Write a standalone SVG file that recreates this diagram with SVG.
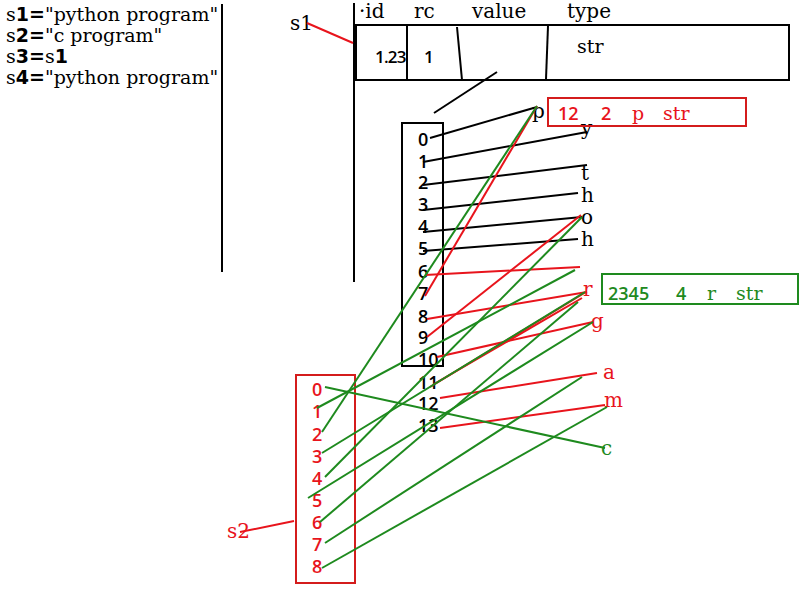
<svg xmlns="http://www.w3.org/2000/svg" width="800" height="600" viewBox="0 0 800 600">
<style>
.serif{font-family:"DejaVu Serif","Liberation Serif",serif}
.sans{font-family:"Open Sans","DejaVu Sans",sans-serif;font-weight:600}
.csans{font-family:"DejaVu Sans","Liberation Sans",sans-serif;font-weight:bold}
.code{font-size:19px;fill:#000}
.hdr{font-size:20px;fill:#000}
.num{font-size:18px;fill:#000}
.rnum{font-size:18px;fill:#e8141c}
.let{font-size:20px;fill:#000}
.rlet{font-size:20px;fill:#e8141c}
.glet{font-size:20px;fill:#1e8a1e}
.bk{stroke:#000;stroke-width:2;fill:none}
.rd{stroke:#e8141c;stroke-width:2;fill:none}
.gn{stroke:#1e8a1e;stroke-width:2;fill:none}
</style>
<rect width="800" height="600" fill="#fff"/>

<g id="code">
<text class="serif code" x="6" y="21">s<tspan class="csans">1=</tspan>"python program"</text>
<text class="serif code" x="6" y="42">s<tspan class="csans">2=</tspan>"c program"</text>
<text class="serif code" x="6" y="63">s<tspan class="csans">3=</tspan>s<tspan class="csans">1</tspan></text>
<text class="serif code" x="6" y="84">s<tspan class="csans">4=</tspan>"python program"</text>
<line class="bk" x1="222" y1="4" x2="222" y2="272"/>
<line class="bk" x1="354" y1="3" x2="354" y2="282"/>
</g>

<g id="s1-label">
<text class="serif let" x="290" y="30">s1</text>
</g>

<g id="object-table">
<text class="serif hdr" x="359" y="18">·id</text>
<text class="serif hdr" x="414" y="18">rc</text>
<text class="serif hdr" x="472" y="18">value</text>
<text class="serif hdr" x="567" y="18">type</text>
<rect class="bk" x="356" y="25" width="433" height="55"/>
<line class="bk" x1="407" y1="26" x2="407" y2="79"/>
<line class="bk" x1="457" y1="27" x2="462" y2="80"/>
<line class="bk" x1="548" y1="26" x2="546" y2="79"/>
<text class="sans" font-size="17" letter-spacing="-0.8" x="375" y="63">1.23</text>
<text class="sans" font-size="17" x="424" y="63">1</text>
<text class="serif" font-size="19" x="577" y="53">str</text>
</g>

<g id="s1-index">
<rect class="bk" x="402" y="123" width="41" height="243"/>
<text class="sans num" x="418" y="146">0</text>
<text class="sans num" x="418" y="168">1</text>
<text class="sans num" x="418" y="189">2</text>
<text class="sans num" x="418" y="211">3</text>
<text class="sans num" x="418" y="233">4</text>
<text class="sans num" x="418" y="255">5</text>
<text class="sans num" x="418" y="278">6</text>
<text class="sans num" x="418" y="300">7</text>
<text class="sans num" x="418" y="323">8</text>
<text class="sans num" x="418" y="344">9</text>
<text class="sans num" x="418" y="366">10</text>
<text class="sans num" x="418" y="389">11</text>
<text class="sans num" x="418" y="410">12</text>
<text class="sans num" x="418" y="432">13</text>
</g>

<g id="chars">
<text class="serif let" x="532" y="118">p</text>
<text class="serif let" x="581" y="135">y</text>
<text class="serif let" x="581" y="180">t</text>
<text class="serif let" x="581" y="202">h</text>
<text class="serif let" x="581" y="224">o</text>
<text class="serif let" x="581" y="246">h</text>
<text class="serif rlet" x="583" y="296">r</text>
<text class="serif rlet" x="591" y="328">g</text>
<text class="serif rlet" x="603" y="379">a</text>
<text class="serif rlet" x="604" y="407">m</text>
<text class="serif glet" x="601" y="455">c</text>
</g>

<g id="obj-p">
<rect x="548" y="98" width="198" height="28" fill="none" stroke="#d41c1c" stroke-width="2"/>
<text class="sans" font-size="18" fill="#e8141c" x="558" y="120">12</text>
<text class="sans" font-size="18" fill="#e8141c" x="601" y="120">2</text>
<text class="serif" font-size="19" fill="#e8141c" x="632" y="120">p</text>
<text class="serif" font-size="19" fill="#e8141c" x="663" y="120">str</text>
</g>

<g id="obj-r">
<rect x="602" y="274" width="196" height="30" fill="none" stroke="#1e8a1e" stroke-width="2"/>
<text class="sans" font-size="18" fill="#1e8a1e" x="608" y="300">2345</text>
<text class="sans" font-size="18" fill="#1e8a1e" x="676" y="300">4</text>
<text class="serif" font-size="19" fill="#1e8a1e" x="707" y="300">r</text>
<text class="serif" font-size="19" fill="#1e8a1e" x="736" y="300">str</text>
</g>

<g id="s2">
<text class="serif rlet" x="227" y="538">s2</text>
<rect x="296" y="375" width="59" height="208" fill="none" stroke="#d41c1c" stroke-width="2"/>
<text class="sans rnum" x="312" y="396">0</text>
<text class="sans rnum" x="312" y="418">1</text>
<text class="sans rnum" x="312" y="441">2</text>
<text class="sans rnum" x="312" y="463">3</text>
<text class="sans rnum" x="312" y="485">4</text>
<text class="sans rnum" x="312" y="507">5</text>
<text class="sans rnum" x="312" y="529">6</text>
<text class="sans rnum" x="312" y="551">7</text>
<text class="sans rnum" x="312" y="573">8</text>
</g>

<g id="connectors">
<line class="rd" x1="307" y1="23" x2="353" y2="43"/>
<line class="bk" x1="497" y1="72" x2="434" y2="113"/>
<line class="bk" x1="430" y1="138" x2="537" y2="107"/>
<line class="bk" x1="423" y1="162" x2="587" y2="132"/>
<line class="bk" x1="423" y1="185" x2="587" y2="165"/>
<line class="bk" x1="423" y1="210" x2="578" y2="193"/>
<line class="bk" x1="423" y1="232" x2="582" y2="217"/>
<line class="bk" x1="423" y1="251" x2="578" y2="239"/>
<line class="rd" x1="425" y1="275" x2="580" y2="267"/>
<line class="rd" x1="425" y1="296" x2="537" y2="106"/>
<line class="rd" x1="427" y1="319" x2="587" y2="292"/>
<line class="rd" x1="427" y1="337" x2="581" y2="215"/>
<line class="rd" x1="437" y1="357" x2="593" y2="322"/>
<line class="rd" x1="430" y1="387" x2="586" y2="292"/>
<line class="rd" x1="434" y1="384" x2="582" y2="298"/>
<line class="rd" x1="440" y1="398" x2="597" y2="373"/>
<line class="rd" x1="440" y1="428" x2="605" y2="405"/>
<line class="gn" x1="325" y1="387" x2="605" y2="448"/>
<line class="gn" x1="317" y1="408" x2="575" y2="270"/>
<line class="gn" x1="322" y1="432" x2="537" y2="106"/>
<line class="gn" x1="322" y1="453" x2="585" y2="292"/>
<line class="gn" x1="325" y1="477" x2="582" y2="217"/>
<line class="gn" x1="308" y1="498" x2="593" y2="322"/>
<line class="gn" x1="320" y1="522" x2="578" y2="302"/>
<line class="gn" x1="325" y1="543" x2="582" y2="377"/>
<line class="gn" x1="322" y1="568" x2="607" y2="407"/>
<line class="rd" x1="240" y1="532" x2="294" y2="521"/>
</g>
</svg>
